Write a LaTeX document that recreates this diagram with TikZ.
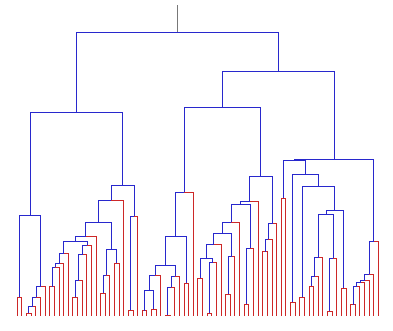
\documentclass[tikz,border=0pt]{standalone}
\usetikzlibrary{calc}
\definecolor{dblue}{RGB}{40,40,205}
\definecolor{dred}{RGB}{205,40,40}
\definecolor{stemgrey}{RGB}{120,120,120}
\tikzset{
  lf/.style={draw=dred,line width=0.9pt},
  cl/.style={draw=dblue,line width=0.9pt},
  stemline/.style={draw=stemgrey,line width=0.9pt}
}
% \jn{name}{left child}{right child}{merge height}{left style}{right style}
\newcommand\jn[6]{%
  \coordinate (#1m) at ($(#2)!0.5!(#3)$);
  \coordinate (#1h) at (0,#4);
  \coordinate (#1) at (#1m |- #1h);
  \draw[#5] (#2) -- (#2 |- #1) -- (#1);
  \draw[#6] (#1) -- (#3 |- #1) -- (#3);
}
\begin{document}
\begin{tikzpicture}[x=1pt,y=-1pt]
\useasboundingbox (0,0) rectangle (393,330);
\foreach \i in {0,...,78}{\coordinate (L\i) at ({17.3+4.63*\i},316);}
% left main branch
\jn{a}{L0}{L1}{297}{lf}{lf}
\jn{b}{L2}{L3}{313}{lf}{lf}
\jn{c}{b}{L4}{306.7}{cl}{lf}
\jn{d}{c}{L5}{297}{cl}{lf}
\jn{e}{d}{L6}{286.7}{cl}{lf}
\jn{f}{a}{e}{215}{cl}{cl}
\jn{g}{L7}{L8}{286.7}{lf}{lf}
\jn{h}{g}{L9}{267.3}{cl}{lf}
\jn{ii}{h}{L10}{263.3}{cl}{lf}
\jn{j}{ii}{L11}{253.3}{cl}{lf}
\jn{k}{L12}{L13}{297.3}{lf}{lf}
\jn{l}{k}{L14}{280}{cl}{lf}
\jn{m}{l}{L15}{254}{cl}{lf}
\jn{n}{m}{L16}{245}{cl}{lf}
\jn{o}{j}{n}{241.7}{cl}{cl}
\jn{p}{o}{L17}{236}{cl}{lf}
\jn{z}{L18}{L19}{293.3}{lf}{lf}
\jn{w}{z}{L20}{275}{cl}{lf}
\jn{x}{L21}{L22}{263.3}{lf}{lf}
\jn{r}{w}{x}{249.3}{cl}{cl}
\jn{q}{p}{r}{222.3}{cl}{cl}
\jn{s}{q}{L23}{200.3}{cl}{lf}
\jn{v}{L24}{L25}{310}{lf}{lf}
\jn{u}{v}{L26}{216}{cl}{lf}
\jn{t}{s}{u}{185.3}{cl}{cl}
\jn{RL}{f}{t}{112}{cl}{cl}
% right main branch, left part
\jn{A5}{L27}{L28}{310.7}{lf}{lf}
\jn{A6}{L29}{L30}{309.3}{lf}{lf}
\jn{A4}{A5}{A6}{290.7}{cl}{cl}
\jn{A2}{A4}{L31}{275.3}{cl}{lf}
\jn{A8}{L32}{L33}{315}{lf}{lf}
\jn{A7}{A8}{L34}{287.3}{cl}{lf}
\jn{A3}{A7}{L35}{276.3}{cl}{lf}
\jn{A1}{A2}{A3}{265.7}{cl}{cl}
\jn{Y1}{L36}{L37}{283.3}{lf}{lf}
\jn{B2}{A1}{Y1}{236.3}{cl}{cl}
\jn{B1}{B2}{L38}{192.3}{cl}{lf}
\jn{C10}{L39}{L40}{278.3}{lf}{lf}
\jn{C12}{L41}{L42}{313.3}{lf}{lf}
\jn{C11}{C12}{L43}{262.7}{cl}{lf}
\jn{C9}{C10}{C11}{258.3}{cl}{cl}
\jn{C7}{C9}{L44}{244.3}{cl}{lf}
\jn{C13}{L45}{L46}{294.3}{lf}{lf}
\jn{C8}{C13}{L47}{256.7}{cl}{lf}
\jn{C6}{C7}{C8}{233.3}{cl}{cl}
\jn{C4}{C6}{L48}{222}{cl}{lf}
\jn{C14}{L49}{L50}{304}{lf}{lf}
\jn{C5}{C14}{L51}{248.3}{cl}{lf}
\jn{C3}{C4}{C5}{204}{cl}{cl}
\jn{C1}{C3}{L52}{201.7}{cl}{lf}
\jn{C16}{L53}{L54}{251.7}{lf}{lf}
\jn{C15}{C16}{L55}{239.3}{cl}{lf}
\jn{C2}{C15}{L56}{223.3}{cl}{lf}
\jn{CC}{C1}{C2}{176}{cl}{cl}
\jn{RRL}{B1}{CC}{107.3}{cl}{cl}
% right main branch, right part
\jn{P57}{L57}{L58}{198.3}{lf}{lf}
\jn{P59}{L59}{L60}{302.3}{lf}{lf}
\jn{P61}{L61}{L62}{297.3}{lf}{lf}
\jn{E6}{L63}{L64}{286}{lf}{lf}
\jn{E5}{E6}{L65}{276.3}{cl}{lf}
\jn{E3}{E5}{L66}{257.3}{cl}{lf}
\jn{E7}{L67}{L68}{311}{lf}{lf}
\jn{E4}{E7}{L69}{258.3}{cl}{lf}
\jn{E2}{E3}{E4}{214.7}{cl}{cl}
\jn{P70}{L70}{L71}{288.3}{lf}{lf}
\jn{E1}{E2}{P70}{210}{cl}{cl}
\jn{EE}{P61}{E1}{186.7}{cl}{cl}
\jn{D1b}{P59}{EE}{174.3}{cl}{cl}
\jn{D1}{P57}{D1b}{160}{cl}{cl}
\jn{p1}{L72}{L73}{304.7}{lf}{lf}
\jn{p2}{p1}{L74}{286.7}{cl}{lf}
\jn{p3}{p2}{L75}{282.3}{cl}{lf}
\jn{p4}{p3}{L76}{280}{cl}{lf}
\jn{p5}{p4}{L77}{274.3}{cl}{lf}
\jn{D2}{p5}{L78}{241.3}{cl}{lf}
\jn{DD}{D1}{D2}{159}{cl}{cl}
\jn{RR}{RRL}{DD}{71.3}{cl}{cl}
\jn{R}{RL}{RR}{32.3}{cl}{cl}
\coordinate (top) at (0,5);
\draw[stemline] (R) -- (R |- top);
\end{tikzpicture}
\end{document}
